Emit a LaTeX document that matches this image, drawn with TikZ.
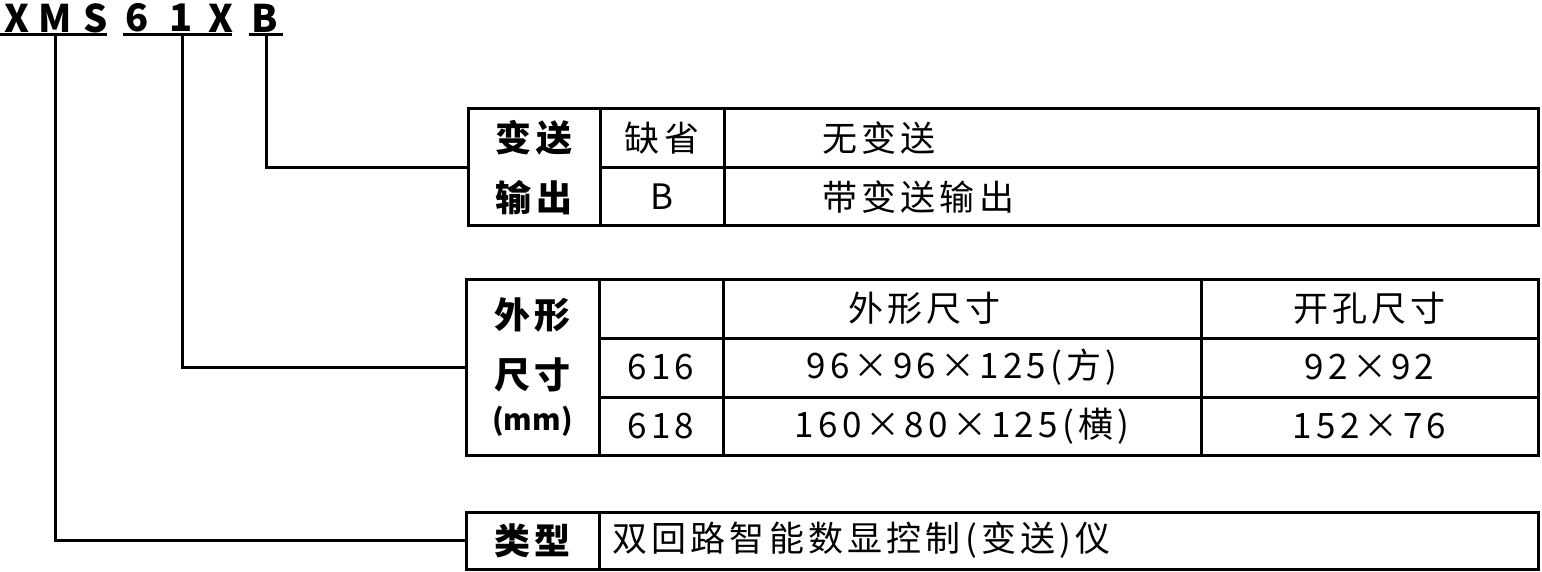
\documentclass[tikz,border=0pt]{standalone}
\usepackage{fontspec}
\setmainfont{Noto Sans CJK SC}
\newfontfamily\cjk[LetterSpace=12]{Noto Sans CJK SC}
\newfontfamily\cjkn{Noto Sans CJK SC}
\usetikzlibrary{positioning}

\begin{document}
\begin{tikzpicture}[
  x=1pt, y=-1pt,
  cell/.style={draw, line width=3pt, outer sep=0pt, inner sep=0pt, anchor=north west, align=center, font=\cjk\fontsize{35}{40}\selectfont},
  head/.style={cell, font=\cjk\bfseries\fontsize{36}{60}\selectfont},
  txt/.style={inner sep=0pt, font=\cjk\fontsize{35}{40}\selectfont},
  code/.style={inner sep=0pt, font=\cjkn\bfseries\fontsize{38}{40}\selectfont},
  wire/.style={line width=3pt}
]
\useasboundingbox (0,0) rectangle (1542,572);

% model code
\node[code] (cx) at (17,18) {X};
\node[code] (cm) at (55,18) {M};
\node[code] (cs) at (96,18) {S};
\node[code] (c6) at (137,18) {6};
\node[code] (c1) at (181,18) {1};
\node[code] (cxx) at (221,18) {X};
\node[code] (cb) at (265,18) {B};
\draw[wire] (0,35) -- (107,35);
\draw[wire] (123,35) -- (232,35);
\draw[wire] (249,35) -- (283,35);
\coordinate (dropM) at (55,35);
\coordinate (drop1) at (182,35);
\coordinate (dropB) at (266,35);

% transmitter output
\node[head, minimum width=132pt, minimum height=117pt] (out) at (468,109) {变送\\输出};
\node[cell, minimum width=124pt, minimum height=59pt] (t1a) at (out.north east) {缺省};
\node[cell, minimum width=814pt, minimum height=59pt] (t1b) at (t1a.north east) {};
\node[cell, minimum width=124pt, minimum height=58pt] (t1c) at (t1a.south west) {B};
\node[cell, minimum width=814pt, minimum height=58pt] (t1d) at (t1c.north east) {};
\node[txt, right=98pt of t1b.west] {无变送};
\node[txt, right=98pt of t1d.west] {带变送输出};

% dimensions
\node[head, minimum width=133pt, minimum height=176pt] (dim) at (466,279) {外形\\尺寸\\[-18pt]{\cjkn\fontsize{29}{40}\selectfont(mm)}};
\node[cell, minimum width=124pt, minimum height=59pt] (t2a) at (dim.north east) {};
\node[cell, minimum width=478pt, minimum height=59pt] (t2b) at (t2a.north east) {};
\node[cell, minimum width=337pt, minimum height=59pt] (t2c) at (t2b.north east) {开孔尺寸};
\node[cell, minimum width=124pt, minimum height=59pt] (t2d) at (t2a.south west) {616};
\node[cell, minimum width=478pt, minimum height=59pt] (t2e) at (t2d.north east) {96×96×125(方)};
\node[cell, minimum width=337pt, minimum height=59pt] (t2f) at (t2e.north east) {92×92};
\node[cell, minimum width=124pt, minimum height=58pt] (t2g) at (t2d.south west) {618};
\node[cell, minimum width=478pt, minimum height=58pt] (t2h) at (t2g.north east) {160×80×125(横)};
\node[cell, minimum width=337pt, minimum height=58pt] (t2i) at (t2h.north east) {152×76};
\node[txt, right=125pt of t2b.west] {外形尺寸};

% type
\node[head, minimum width=133pt, minimum height=57pt] (kind) at (466,512) {类型};
\node[cell, minimum width=939pt, minimum height=57pt] (t3a) at (kind.north east) {};
\node[txt, right=13pt of t3a.west] {双回路智能数显控制(变送)仪};

% leaders
\draw[wire] (dropB) |- (out.west);
\draw[wire] (drop1) |- (dim.west);
\draw[wire] (dropM) |- (kind.west);
\end{tikzpicture}
\end{document}
